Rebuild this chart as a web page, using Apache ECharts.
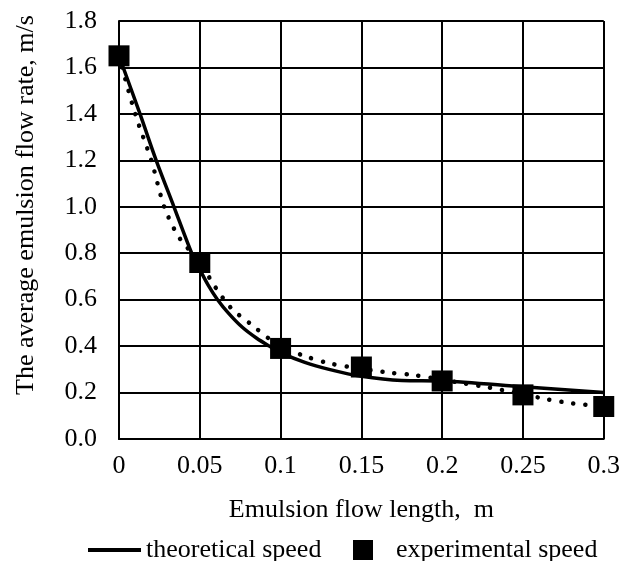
<!DOCTYPE html>
<html>
<head>
<meta charset="utf-8">
<script src="https://cdn.jsdelivr.net/npm/echarts@6/dist/echarts.min.js"></script>
<style>html,body{margin:0;padding:0;background:#fff}#c{width:623px;height:561px}</style>
</head>
<body>
<div id="c"></div>
<script>
// Experimental points
const expX = [0, 0.05, 0.1, 0.15, 0.2, 0.25, 0.3];
const expY = [1.65, 0.76, 0.39, 0.31, 0.25, 0.19, 0.14];
// Theoretical curve
const thX = [0, 0.013, 0.023, 0.034, 0.045, 0.05, 0.055, 0.061, 0.068, 0.0765, 0.085, 0.093, 0.1, 0.115, 0.13, 0.15, 0.175, 0.2, 0.25, 0.3];
const thY = [1.65, 1.40, 1.20, 1.00, 0.80, 0.73, 0.665, 0.60, 0.54, 0.48, 0.435, 0.40, 0.372, 0.33, 0.30, 0.27, 0.252, 0.25, 0.225, 0.20];
// Dotted trend line through experimental points
const trX = [0, 0.01, 0.02, 0.028, 0.037, 0.05, 0.06, 0.0695, 0.081, 0.094, 0.1, 0.115, 0.13, 0.145, 0.167, 0.182, 0.2, 0.213, 0.228, 0.25, 0.265, 0.28, 0.3];
const trY = [1.65, 1.40, 1.20, 1.00, 0.87, 0.76, 0.65, 0.563, 0.498, 0.426, 0.40, 0.357, 0.326, 0.308, 0.286, 0.276, 0.255, 0.24, 0.223, 0.193, 0.171, 0.154, 0.14];
const xTitle = 'Emulsion flow length,  m';
const yTitle = 'The average emulsion flow rate, m/s';
const thName = 'theoretical speed';
const expName = 'experimental speed';

const zip = (a, b) => a.map((v, i) => [v, b[i]]);
const FONT = '"Liberation Serif", "Times New Roman", serif';
const chart = echarts.init(document.getElementById('c'), null, {renderer: 'canvas'});
chart.setOption({
  animation: false,
  backgroundColor: '#fff',
  textStyle: {fontFamily: FONT, color: '#000'},
  grid: {left: 119, right: 18, top: 21, bottom: 122},
  legend: [
    {data: [thName], left: 83, top: 532, icon: 'rect', itemWidth: 53, itemHeight: 4,
     textStyle: {fontFamily: FONT, fontSize: 26, color: '#000'}},
    {data: [expName], left: 348, top: 532, icon: 'rect', itemWidth: 20, itemHeight: 20,
     itemStyle: {opacity: 1},
     textStyle: {fontFamily: FONT, fontSize: 26, color: '#000', padding: [0, 0, 0, 18]}}
  ],
  xAxis: {
    type: 'value', min: 0, max: 0.3, interval: 0.05,
    name: xTitle, nameLocation: 'middle', nameGap: 58,
    nameTextStyle: {fontFamily: FONT, fontSize: 26, color: '#000'},
    axisLine: {show: true, lineStyle: {color: '#000', width: 2}},
    axisTick: {show: false},
    axisLabel: {fontFamily: FONT, fontSize: 26, color: '#000', margin: 14},
    splitLine: {show: true, lineStyle: {color: '#000', width: 2}}
  },
  yAxis: {
    type: 'value', min: 0, max: 1.8, interval: 0.2,
    name: yTitle, nameLocation: 'middle', nameGap: 80,
    nameTextStyle: {fontFamily: FONT, fontSize: 26, color: '#000', padding: [0, 0, 0, 50]},
    axisLine: {show: true, lineStyle: {color: '#000', width: 2}},
    axisTick: {show: false},
    axisLabel: {fontFamily: FONT, fontSize: 26, color: '#000', margin: 22, formatter: v => v.toFixed(1)},
    splitLine: {show: true, lineStyle: {color: '#000', width: 2}}
  },
  series: [
    {name: 'trend', type: 'line', data: zip(trX, trY), smooth: 0.3, showSymbol: false, symbol: 'none',
     lineStyle: {color: '#000', width: 4.5, type: [0.1, 12], cap: 'round'}, z: 3, silent: true},
    {name: thName, type: 'line', data: zip(thX, thY), smooth: 0.3, showSymbol: false, symbol: 'none',
     itemStyle: {color: '#000'}, lineStyle: {color: '#000', width: 3.5}, z: 4},
    {name: expName, type: 'scatter', data: zip(expX, expY), symbol: 'rect', symbolSize: 21,
     itemStyle: {color: '#000', opacity: 1}, z: 5}
  ]
});
</script>
</body>
</html>
